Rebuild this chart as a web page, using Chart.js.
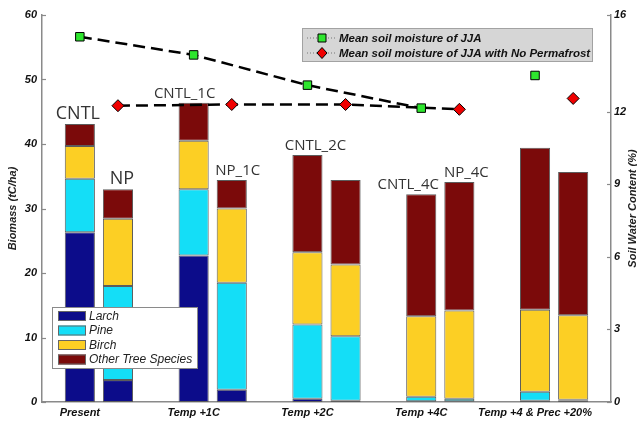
<!DOCTYPE html>
<html>
<head>
<meta charset="utf-8">
<script src="https://cdn.jsdelivr.net/npm/chart.js@4.4.0/dist/chart.umd.min.js"></script>
<style>
  html, body { margin: 0; padding: 0; background: #ffffff; }
  canvas { display: block; }
</style>
</head>
<body>
<canvas id="c" width="637" height="421"></canvas>
<script>
// Scenarios along the x axis
const scenarios = ['Present', 'Temp +1C', 'Temp +2C', 'Temp +4C', 'Temp +4 & Prec +20%'];

// Biomass (tC/ha) per species, control runs
const larchCNTL = [26.3, 22.7, 0.5, 0.1, 0.2];
const pineCNTL  = [8.3, 10.3, 11.5, 0.7, 1.4];
const birchCNTL = [5.1, 7.5, 11.2, 12.5, 12.7];
const otherCNTL = [3.4, 5.9, 15.1, 18.9, 25.1];

// Biomass (tC/ha) per species, runs with no permafrost
const larchNP = [3.4, 1.9, 0.2, 0.1, 0.2];
const pineNP  = [14.6, 16.6, 10.0, 0.4, 0.15];
const birchNP = [10.4, 11.5, 11.1, 13.7, 13.1];
const otherNP = [4.6, 4.4, 13.1, 19.9, 22.2];

// Mean JJA soil water content (%)
const soilJJA   = [15.1, 14.35, 13.1, 12.15, 13.5];
const soilJJANP = [12.25, 12.3, 12.3, 12.1, 12.55];

// Run names written above the bars
const runLabelsCNTL = ['CNTL', 'CNTL_1C', 'CNTL_2C', 'CNTL_4C', ''];
const runLabelsNP   = ['NP', 'NP_1C', '', 'NP_4C', ''];

// Tick values
const biomassTicks = [0, 10, 20, 30, 40, 50, 60];
const soilTicks = [0, 3, 6, 9, 12, 16];

const speciesNames = ['Larch', 'Pine', 'Birch', 'Other Tree Species'];
const speciesColors = ['#0c0c8a', '#14def7', '#fccf24', '#7b0a0a'];

const SHIFT = 0.1675;          // offset of each run's bar from the scenario centre
const FONT = '"Liberation Sans", Arial, sans-serif';

const at = (values, offset) => values.map((v, i) => ({ x: i + offset, y: v }));

function barSet(label, values, color, offset) {
  return {
    type: 'bar', label, data: at(values, offset),
    backgroundColor: color, borderColor: '#5c5c5c', borderWidth: 1, borderSkipped: false,
    grouped: false, categoryPercentage: 1, barPercentage: 0.79,
    xAxisID: 'x', yAxisID: 'y', order: 2
  };
}

function soilSet(label, values, offset, style, fill) {
  return {
    type: 'line', label, data: at(values, offset),
    xAxisID: 'x', yAxisID: 'y2', order: 0,
    borderColor: '#000', borderWidth: 2.5, borderDash: [12, 6],
    pointStyle: style, pointRadius: 6, pointBackgroundColor: fill,
    pointBorderColor: '#000', pointBorderWidth: 1,
    segment: {
      borderColor: ctx => ctx.p1DataIndex === values.length - 1 ? 'rgba(0,0,0,0)' : '#000'
    }
  };
}

const datasets = [
  barSet('Larch', larchCNTL, speciesColors[0], -SHIFT),
  barSet('Pine', pineCNTL, speciesColors[1], -SHIFT),
  barSet('Birch', birchCNTL, speciesColors[2], -SHIFT),
  barSet('Other Tree Species', otherCNTL, speciesColors[3], -SHIFT),
  barSet('Larch (NP)', larchNP, speciesColors[0], SHIFT),
  barSet('Pine (NP)', pineNP, speciesColors[1], SHIFT),
  barSet('Birch (NP)', birchNP, speciesColors[2], SHIFT),
  barSet('Other Tree Species (NP)', otherNP, speciesColors[3], SHIFT),
  soilSet('Mean soil moisture of JJA', soilJJA, -SHIFT, 'rect', '#2ee62e'),
  soilSet('Mean soil moisture of JJA with No Permafrost', soilJJANP, SHIFT, 'rectRot', '#f00000')
];

// Run names, inset axis ticks, axis titles and both legends
const decorations = {
  id: 'decorations',
  afterDraw(chart) {
    const ctx = chart.ctx;
    const ca = chart.chartArea;
    const yS = chart.scales.y, y2S = chart.scales.y2;
    ctx.save();

    // inward tick marks
    ctx.strokeStyle = '#8a8a8a';
    ctx.lineWidth = 1.2;
    biomassTicks.forEach(v => {
      const py = Math.round(yS.getPixelForValue(v)) + 0.5;
      ctx.beginPath(); ctx.moveTo(ca.left, py); ctx.lineTo(ca.left + 4, py); ctx.stroke();
    });
    soilTicks.forEach(v => {
      const py = Math.round(y2S.getPixelForValue(v)) + 0.5;
      ctx.beginPath(); ctx.moveTo(ca.right - 4, py); ctx.lineTo(ca.right, py); ctx.stroke();
    });

    // axis titles
    const midY = (ca.top + ca.bottom) / 2;
    ctx.fillStyle = '#222';
    ctx.font = 'italic bold 11px ' + FONT;
    ctx.textAlign = 'center';
    ctx.textBaseline = 'middle';
    ctx.save(); ctx.translate(13, midY); ctx.rotate(-Math.PI / 2);
    ctx.fillText('Biomass (tC/ha)', 0, 0); ctx.restore();
    ctx.save(); ctx.translate(ca.right + 22, midY); ctx.rotate(-Math.PI / 2);
    ctx.fillText('Soil Water Content (%)', 0, 0); ctx.restore();

    // run names above each stacked bar
    const topCNTL = chart.getDatasetMeta(3).data;
    const topNP = chart.getDatasetMeta(7).data;
    const nudge = { 'CNTL': -2, 'NP': 4, 'CNTL_1C': -9, 'NP_1C': 6, 'CNTL_2C': 8, 'CNTL_4C': -13, 'NP_4C': 7 };
    ctx.fillStyle = '#333';
    ctx.textBaseline = 'alphabetic';
    const drawRun = (txt, el, first) => {
      if (!txt) return;
      ctx.font = (first ? '18px ' : '15px ') + '"Open Sans", ' + FONT;
      ctx.fillText(txt, el.x + (nudge[txt] || 0), el.y - 5);
    };
    runLabelsCNTL.forEach((t, i) => drawRun(t, topCNTL[i], i === 0));
    runLabelsNP.forEach((t, i) => drawRun(t, topNP[i], i === 0));

    // soil moisture legend (upper right)
    const lw = 290, lh = 33;
    const lx = ca.right - 19 - lw, ly = ca.top + 13;
    ctx.fillStyle = '#d6d6d6';
    ctx.fillRect(lx, ly, lw, lh);
    ctx.strokeStyle = '#a2a2a2'; ctx.lineWidth = 1;
    ctx.strokeRect(lx + 0.5, ly + 0.5, lw, lh);
    [datasets[8], datasets[9]].forEach((ds, k) => {
      const ry = ly + 9.5 + k * 15;
      ctx.strokeStyle = '#777'; ctx.lineWidth = 1; ctx.setLineDash([1, 2]);
      ctx.beginPath(); ctx.moveTo(lx + 5, ry + 0.5); ctx.lineTo(lx + 35, ry + 0.5); ctx.stroke();
      ctx.setLineDash([]);
      ctx.fillStyle = ds.pointBackgroundColor; ctx.strokeStyle = '#000';
      ctx.beginPath();
      if (ds.pointStyle === 'rect') {
        ctx.rect(lx + 16, ry - 3.5, 8, 8);
      } else {
        ctx.moveTo(lx + 20, ry - 5); ctx.lineTo(lx + 25, ry + 0.5);
        ctx.lineTo(lx + 20, ry + 6); ctx.lineTo(lx + 15, ry + 0.5); ctx.closePath();
      }
      ctx.fill(); ctx.stroke();
      ctx.fillStyle = '#111';
      ctx.font = 'italic bold 11.5px ' + FONT;
      ctx.textAlign = 'left'; ctx.textBaseline = 'middle';
      ctx.fillText(ds.label, lx + 37, ry + 1);
    });

    // species legend (lower left)
    const bw = 145, bh = 61;
    const bx = ca.left + 10, by = ca.bottom - 34 - bh;
    ctx.fillStyle = '#ffffff';
    ctx.fillRect(bx, by, bw, bh);
    ctx.strokeStyle = '#8a8a8a'; ctx.lineWidth = 1;
    ctx.strokeRect(bx + 0.5, by + 0.5, bw, bh);
    speciesNames.forEach((name, k) => {
      const ry = by + 4 + k * 14.5;
      ctx.fillStyle = speciesColors[k];
      ctx.fillRect(bx + 6, ry, 28, 10);
      ctx.strokeStyle = '#666';
      ctx.strokeRect(bx + 6.5, ry + 0.5, 27, 9);
      ctx.fillStyle = '#222';
      ctx.font = 'italic 12px ' + FONT;
      ctx.textAlign = 'left'; ctx.textBaseline = 'middle';
      ctx.fillText(name, bx + 37, ry + 5.5);
    });

    ctx.restore();
  }
};

new Chart(document.getElementById('c'), {
  data: { datasets },
  options: {
    responsive: false,
    animation: false,
    layout: { padding: { top: 15, left: 0, right: 0, bottom: 0 } },
    plugins: { legend: { display: false }, tooltip: { enabled: false } },
    scales: {
      x: {
        type: 'linear', min: -0.5, max: scenarios.length - 0.5, offset: false,
        grid: { display: false, drawTicks: false },
        border: { display: true, color: '#8a8a8a', width: 1.5 },
        // scenario names sit under the control-run bar of each group
        afterBuildTicks: s => { s.ticks = scenarios.map((_, i) => ({ value: i - SHIFT })); },
        ticks: {
          color: '#111', font: { family: FONT, size: 11, style: 'italic', weight: 'bold' },
          padding: 4, maxRotation: 0, autoSkip: false,
          callback: (v, i) => scenarios[i]
        },
        afterFit: s => { s.height = 19; }
      },
      y: {
        position: 'left', stacked: true, min: 0, max: 60,
        grid: { display: false, drawTicks: false },
        border: { display: true, color: '#8a8a8a', width: 1.5 },
        afterBuildTicks: s => { s.ticks = biomassTicks.map(v => ({ value: v })); },
        ticks: {
          color: '#111', font: { family: FONT, size: 11, style: 'italic', weight: 'bold' },
          padding: 5
        },
        afterFit: s => { s.width = 42; }
      },
      y2: {
        position: 'right', min: 0, max: 16,
        grid: { display: false, drawTicks: false },
        border: { display: true, color: '#8a8a8a', width: 1.5 },
        afterBuildTicks: s => { s.ticks = soilTicks.map(v => ({ value: v })); },
        ticks: {
          color: '#111', font: { family: FONT, size: 11, style: 'italic', weight: 'bold' },
          padding: 3
        },
        afterFit: s => { s.width = 26; }
      }
    }
  },
  plugins: [decorations]
});
</script>
</body>
</html>
